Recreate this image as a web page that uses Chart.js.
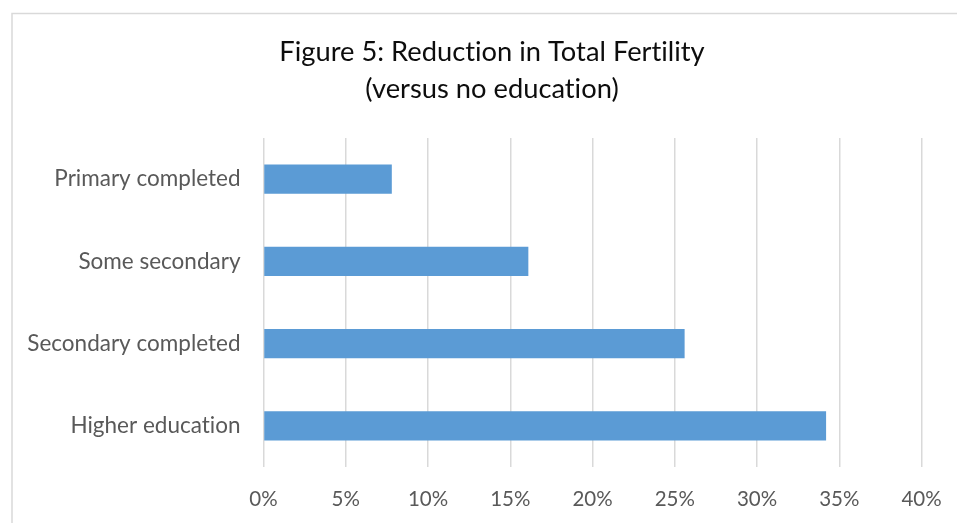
<!DOCTYPE html>
<html>
<head>
<meta charset="utf-8">
<script src="https://cdn.jsdelivr.net/npm/chart.js@4"></script>
<style>
html,body{margin:0;padding:0;background:#fff;}
#wrap{position:absolute;left:0;top:0;width:957px;height:523px;}
</style>
</head>
<body>
<div id="wrap"><canvas id="c" width="957" height="523"></canvas></div>
<script>
const titleLines = ['Figure 5: Reduction in Total Fertility', '(versus no education)'];
const categories = ['Primary completed', 'Some secondary', 'Secondary completed', 'Higher education'];
const reductionPct = [7.8, 16.1, 25.6, 34.2];
const xTickMax = 40;
const xTickStep = 5;

const frame = {
  id: 'frame',
  beforeInit(chart) {
    try { chart.ctx.textRendering = 'optimizeSpeed'; } catch (e) {}
  },
  afterLayout(chart) {
    // centre the title over the whole chart frame (as in the original)
    const t = chart.titleBlock;
    if (t) { t.left = 28; t.right = 956; }
  },
  beforeDraw(chart) {
    const ctx = chart.ctx;
    try { ctx.textRendering = 'optimizeSpeed'; } catch (e) {}
    ctx.save();
    ctx.fillStyle = '#ffffff';
    ctx.fillRect(0, 0, chart.width, chart.height);
    ctx.strokeStyle = '#d9d9d9';
    ctx.lineWidth = 1.5;
    ctx.strokeRect(12, 13.5, 980, 560);
    ctx.restore();
  }
};

new Chart(document.getElementById('c'), {
  type: 'bar',
  data: {
    labels: categories,
    datasets: [{
      data: reductionPct,
      backgroundColor: '#5b9bd5',
      borderWidth: 0,
      categoryPercentage: 1,
      barPercentage: 0.355
    }]
  },
  plugins: [frame],
  options: {
    indexAxis: 'y',
    responsive: false,
    animation: false,
    devicePixelRatio: 1,
    layout: { padding: { top: 13, left: 0, right: 35.5, bottom: 0 } },
    plugins: {
      legend: { display: false },
      tooltip: { enabled: false },
      title: {
        display: true,
        text: titleLines,
        color: '#0d0d0d',
        font: { family: 'Lato', size: 27.3, weight: 'normal', lineHeight: 1.355 },
        padding: { top: 20.5, bottom: 30.5 }
      }
    },
    scales: {
      x: {
        min: 0,
        max: xTickMax,
        ticks: {
          stepSize: xTickStep,
          color: '#595959',
          font: { family: 'Lato', size: 20.5 },
          padding: 20,
          callback: v => v + '%'
        },
        grid: { color: '#d9d9d9', lineWidth: 1.5, drawTicks: false },
        border: { display: false },
        afterFit(s) { s.height = 56; s.paddingLeft = 0; s.paddingRight = 0; }
      },
      y: {
        ticks: {
          color: '#595959',
          font: { family: 'Lato', size: 22.5 },
          padding: 23
        },
        grid: { display: false, drawTicks: false },
        border: { display: false },
        afterFit(s) { s.width = 263.5; }
      }
    }
  }
});
</script>
</body>
</html>
